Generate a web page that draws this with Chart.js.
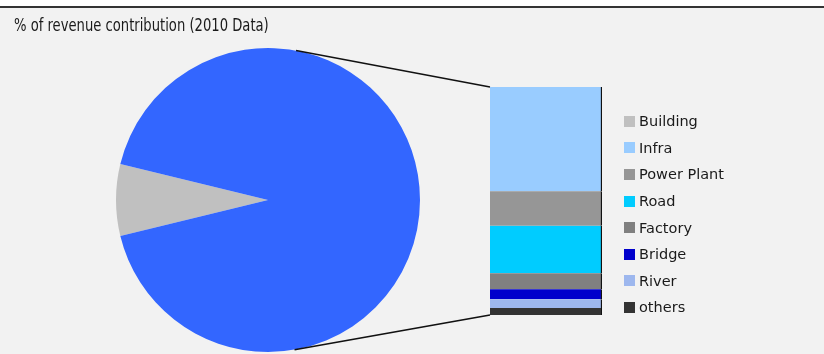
<!DOCTYPE html>
<html>
<head>
<meta charset="utf-8">
<script src="https://cdn.jsdelivr.net/npm/chart.js@4.4.1/dist/chart.umd.min.js"></script>
<style>
  body { margin: 0; background: #fff; }
  #wrap { position: relative; width: 824px; height: 354px; overflow: hidden; }
  #frame { position: absolute; left: 0; top: 6px; width: 824px; height: 348px; background: #f2f2f2; border-top: 2px solid #333; box-sizing: border-box; }
  canvas { position: absolute; left: 0; top: 0; }
  #title { position: absolute; left: 14px; top: 15px; font: 17px "DejaVu Sans Condensed", "DejaVu Sans", sans-serif; color: #1a1a1a; white-space: nowrap; transform: scaleX(0.86); transform-origin: left center; }
  #legend { position: absolute; left: 624px; top: 108px; font: 14.5px "DejaVu Sans", sans-serif; color: #1a1a1a; }
  .row { height: 26.6px; display: flex; align-items: center; }
  .sw { width: 11px; height: 11px; margin-right: 4px; }
</style>
</head>
<body>
<div id="wrap">
  <div id="frame"></div>
  <canvas id="pie" width="824" height="354"></canvas>
  <canvas id="bar" width="824" height="354"></canvas>
  <div id="title">% of revenue contribution (2010 Data)</div>
  <div id="legend"></div>
</div>
<script>
// Données 2010
const pieLabels = ['Building', 'Other'];
const pieValues = [7.6, 92.3];
const barLabels = ['Infra', 'Power Plant', 'Road', 'Factory', 'Bridge', 'River', 'others'];
const barValues = [42.2, 14.0, 19.2, 6.5, 4.0, 3.6, 2.8];

const BUILDING = '#c0c0c0', BIGBLUE = '#3366ff';
const barColors = ['#99ccff', '#969696', '#00ccff', '#808080', '#0000cc', '#9db7ee', '#333333'];

// Camembert
const pieChart = new Chart(document.getElementById('pie'), {
  type: 'pie',
  data: {
    labels: pieLabels,
    datasets: [{ data: pieValues, backgroundColor: [BUILDING, BIGBLUE], borderWidth: 0 }]
  },
  options: {
    responsive: false,
    animation: false,
    rotation: 270 - pieValues[0] / (pieValues[0] + pieValues[1]) * 180,
    layout: { padding: { left: 116, right: 404, top: 48, bottom: 2 } },
    plugins: { legend: { display: false }, tooltip: { enabled: false } }
  }
});

// Lignes de liaison camembert -> barre (tangentes au cercle)
const connectors = {
  id: 'connectors',
  afterDraw(chart) {
    const arc = pieChart.getDatasetMeta(0).data[1];
    const cx = arc.x, cy = arc.y, r = arc.outerRadius;
    const topEl = chart.getDatasetMeta(chart.data.datasets.length - 1).data[0];
    const botEl = chart.getDatasetMeta(0).data[0];
    const left = topEl.x - topEl.width / 2;
    const pts = [[left, topEl.y, -1], [left, botEl.base, 1]];
    const ctx = chart.ctx;
    ctx.save();
    ctx.strokeStyle = '#111';
    ctx.lineWidth = 1.5;
    pts.forEach(([px, py, s]) => {
      const d = Math.hypot(px - cx, py - cy);
      const a = Math.atan2(py - cy, px - cx) + s * Math.acos(r / d);
      ctx.beginPath();
      ctx.moveTo(cx + r * Math.cos(a), cy + r * Math.sin(a));
      ctx.lineTo(px, py);
      ctx.stroke();
    });
    ctx.restore();
  }
};

// Barre empilée
const barDatasets = barLabels.map((l, i) => ({
  label: l,
  data: [barValues[i]],
  backgroundColor: barColors[i],
  borderColor: '#111',
  borderWidth: { top: 0, left: 0, bottom: 0, right: 1.5 },
  borderSkipped: false,
  barPercentage: 1,
  categoryPercentage: 1
})).reverse();

new Chart(document.getElementById('bar'), {
  type: 'bar',
  data: { labels: [''], datasets: barDatasets },
  options: {
    responsive: false,
    animation: false,
    layout: { padding: { left: 490, right: 222, top: 87, bottom: 39 } },
    scales: {
      x: { stacked: true, display: false },
      y: { stacked: true, display: false, min: 0, max: barValues.reduce((a, b) => a + b, 0) }
    },
    plugins: { legend: { display: false }, tooltip: { enabled: false } }
  },
  plugins: [connectors]
});

// Légende
const legend = document.getElementById('legend');
[['Building', BUILDING]].concat(barLabels.map((l, i) => [l, barColors[i]])).forEach(([l, c]) => {
  const row = document.createElement('div');
  row.className = 'row';
  row.innerHTML = `<span class="sw" style="background:${c}"></span><span>${l}</span>`;
  legend.appendChild(row);
});
</script>
</body>
</html>
